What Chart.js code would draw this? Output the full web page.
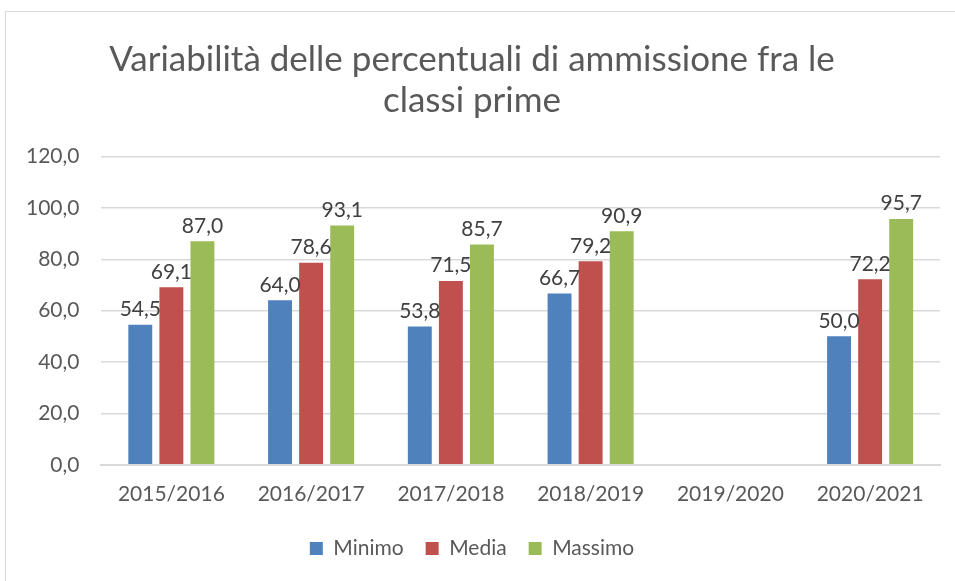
<!DOCTYPE html>
<html>
<head>
<meta charset="utf-8">
<script src="https://cdn.jsdelivr.net/npm/chart.js@4/dist/chart.umd.min.js"></script>
<style>
  body { margin: 0; background: #fff; }
  .frame { position: absolute; left: 5px; top: 11px; width: 970px; height: 600px; border: 1px solid #d9d9d9; }
  .wrap { position: absolute; left: 0; top: 0; width: 955px; height: 581px; }
</style>
</head>
<body>
<div class="frame"></div>
<div class="wrap"><canvas id="chart"></canvas></div>
<script>
const years = ['2015/2016', '2016/2017', '2017/2018', '2018/2019', '2019/2020', '2020/2021'];
const minimo = [54.5, 64.0, 53.8, 66.7, null, 50.0];
const media = [69.1, 78.6, 71.5, 79.2, null, 72.2];
const massimo = [87.0, 93.1, 85.7, 90.9, null, 95.7];

const fmt = v => v.toFixed(1).replace('.', ',');
const FONT = 'Lato, "Open Sans", sans-serif';

// value labels above each bar
const barLabels = {
  id: 'barLabels',
  afterDatasetsDraw(chart) {
    const ctx = chart.ctx;
    ctx.save();
    ctx.font = '21px ' + FONT;
    ctx.fillStyle = '#404040';
    ctx.textAlign = 'center';
    ctx.textBaseline = 'bottom';
    chart.data.datasets.forEach((ds, i) => {
      chart.getDatasetMeta(i).data.forEach((bar, j) => {
        if (ds.data[j] == null) return;
        ctx.fillText(fmt(ds.data[j]), bar.x, bar.y - 5);
      });
    });
    ctx.restore();
  }
};

new Chart(document.getElementById('chart'), {
  type: 'bar',
  data: {
    labels: years,
    datasets: [
      { label: 'Minimo', data: minimo, backgroundColor: '#4f81bd' },
      { label: 'Media', data: media, backgroundColor: '#c0504d' },
      { label: 'Massimo', data: massimo, backgroundColor: '#9bbb59' }
    ]
  },
  options: {
    responsive: true,
    maintainAspectRatio: false,
    animation: false,
    categoryPercentage: 0.667,
    barPercentage: 0.77,
    layout: { padding: { left: 4, right: 15, top: 40, bottom: 12 } },
    plugins: {
      title: {
        display: true,
        text: ['Variabilità delle percentuali di ammissione fra le', 'classi prime'],
        color: '#595959',
        font: { family: FONT, size: 35, weight: 'normal', lineHeight: 1.15 },
        padding: { top: 0, bottom: 36 }
      },
      legend: {
        position: 'bottom',
        labels: {
          color: '#595959',
          font: { family: FONT, size: 21 },
          boxWidth: 13,
          boxHeight: 13,
          padding: 22
        }
      },
      tooltip: { enabled: false }
    },
    scales: {
      x: {
        grid: { display: false },
        border: { color: '#d9d9d9', width: 2 },
        ticks: { color: '#595959', font: { family: FONT, size: 21 }, padding: 9 }
      },
      y: {
        min: 0,
        max: 120,
        ticks: {
          stepSize: 20,
          color: '#595959',
          font: { family: FONT, size: 21 },
          padding: 22,
          callback: v => fmt(v)
        },
        grid: { color: '#d9d9d9', lineWidth: 1.5, drawTicks: false },
        border: { display: false }
      }
    }
  },
  plugins: [barLabels]
});
</script>
</body>
</html>
